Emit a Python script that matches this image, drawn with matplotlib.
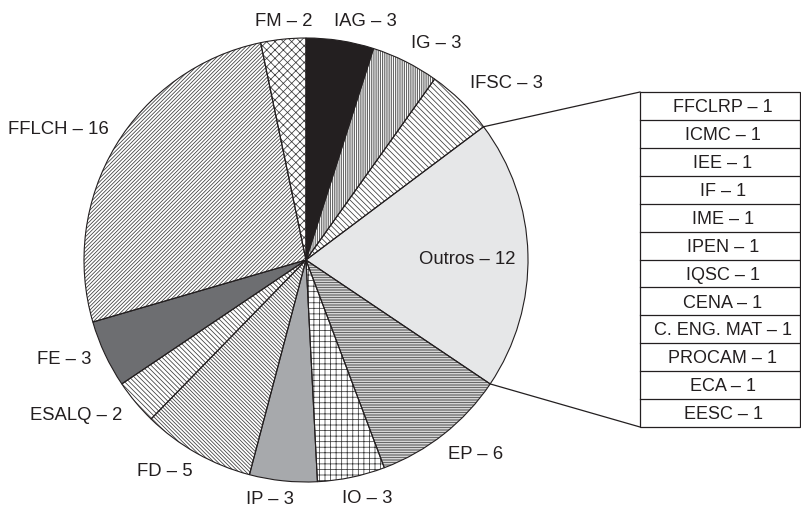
import numpy as np
import matplotlib.pyplot as plt
from matplotlib.patches import Rectangle

plt.rcParams['font.family'] = ['Liberation Sans', 'DejaVu Sans']
plt.rcParams['hatch.linewidth'] = 0.55

# dados
siglas = ['IAG', 'IG', 'IFSC', 'Outros', 'EP', 'IO', 'IP', 'FD', 'ESALQ', 'FE', 'FFLCH', 'FM']
valores = [3, 3, 3, 12, 6, 3, 3, 5, 2, 3, 16, 2]

outros_siglas = ['FFCLRP', 'ICMC', 'IEE', 'IF', 'IME', 'IPEN', 'IQSC', 'CENA',
                 'C. ENG. MAT', 'PROCAM', 'ECA', 'EESC']
outros_valores = [1, 1, 1, 1, 1, 1, 1, 1, 1, 1, 1, 1]

# estilo
cores = ['#231f20', 'white', 'white', '#e6e7e8', 'white', 'white',
         '#a7a9ac', 'white', 'white', '#6d6e71', 'white', 'white']
hachuras = ['', '|' * 9, '\\' * 6, '', '-' * 10, '+++', '',
            '\\' * 9, '\\' * 7, '', '/' * 9, 'xxxx']
cor_texto = '#231f20'

W, H = 801, 508
cx, cy, raio = 306, 260, 222   # centro e raio em pixels (y para baixo)

# posicoes dos rotulos (pixels, y para baixo)
pos_rotulos = [(365, 20), (436, 42), (506, 82), (467, 258), (476, 453), (367, 497),
               (270, 498), (165, 470), (76, 414), (64, 358), (58, 128), (284, 20)]

fig = plt.figure(figsize=(W / 100, H / 100), dpi=100)
ax = fig.add_axes([0, 0, 1, 1])

# preenchimento + hachuras
ax.pie(valores, center=(cx, H - cy), radius=raio, startangle=90, counterclock=False,
       colors=cores, hatch=hachuras,
       wedgeprops=dict(edgecolor='#3a3a3a', linewidth=0))
# contornos
fatias, _ = ax.pie(valores, center=(cx, H - cy), radius=raio, startangle=90,
                   counterclock=False, colors=['none'] * len(valores),
                   wedgeprops=dict(edgecolor='#231f20', linewidth=0.8, fill=False))

for sig, v, (x, y) in zip(siglas, valores, pos_rotulos):
    ax.text(x, H - y - 6.4, f'{sig} – {v}', ha='center', va='baseline',
            fontsize=13.3, color=cor_texto)

# tabela com os "Outros"
x0, x1 = 640, 800
topo, base = 92, 427
h_lin = (base - topo) / len(outros_siglas)
ax.add_patch(Rectangle((x0, H - base), x1 - x0, base - topo, fill=False,
                       edgecolor='#231f20', linewidth=0.9, clip_on=False))
for i, (sig, v) in enumerate(zip(outros_siglas, outros_valores)):
    yt = topo + i * h_lin
    if i > 0:
        ax.plot([x0, x1], [H - yt, H - yt], color='#231f20', lw=0.9)
    ax.text((x0 + x1) / 2 + 3, H - (yt + h_lin / 2) - 6.2, f'{sig} – {v}',
            ha='center', va='baseline', fontsize=13, color=cor_texto)

# linhas ligando a fatia "Outros" a tabela
w = fatias[siglas.index('Outros')]
for ang, yt in [(w.theta2, topo), (w.theta1, base)]:
    px = cx + raio * np.cos(np.radians(ang))
    py = (H - cy) + raio * np.sin(np.radians(ang))
    ax.plot([px, x0], [py, H - yt], color='#231f20', lw=0.9)

ax.set_xlim(0, W)
ax.set_ylim(0, H)
ax.set_aspect('equal')
ax.axis('off')

fig.savefig('out.png', dpi=100)
